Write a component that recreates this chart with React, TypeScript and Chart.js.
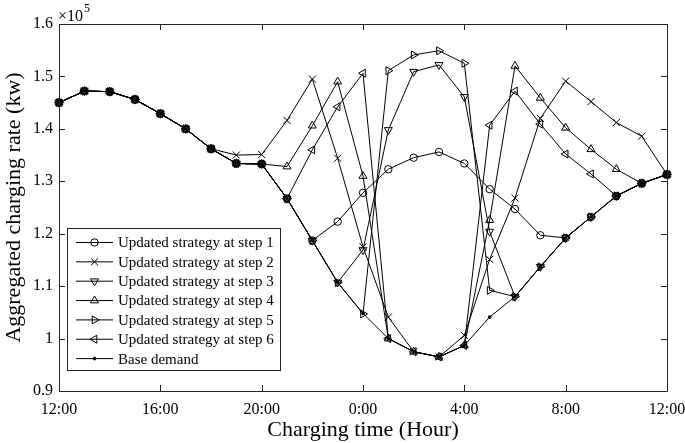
import React, { useEffect, useRef } from 'react';
import { Chart, registerables } from 'chart.js';

Chart.register(...registerables);

// Hours after 12:00 (0 = 12:00, 24 = 12:00 next day)
const hourOffsets = [0, 1, 2, 3, 4, 5, 6, 7, 8, 9, 10, 11, 12, 13, 14, 15, 16, 17, 18, 19, 20, 21, 22, 23, 24];
const xTickValues = [0, 4, 8, 12, 16, 20, 24];
const xTickLabels = ['12:00', '16:00', '20:00', '0:00', '4:00', '8:00', '12:00'];
const yTickValues = [0.9, 1.0, 1.1, 1.2, 1.3, 1.4, 1.5, 1.6];
const yTickLabels = ['0.9', '1', '1.1', '1.2', '1.3', '1.4', '1.5', '1.6'];

// Values in units of 10^5 kw
const baseDemand = [1.450, 1.472, 1.471, 1.456, 1.429, 1.400, 1.362, 1.334, 1.333, 1.267, 1.187, 1.107, 1.048, 1.000, 0.975, 0.965, 0.987, 1.041, 1.080, 1.137, 1.192, 1.232, 1.272, 1.296, 1.313];
const step1 = [1.450, 1.472, 1.471, 1.456, 1.429, 1.400, 1.362, 1.334, 1.333, 1.267, 1.187, 1.223, 1.278, 1.323, 1.345, 1.356, 1.334, 1.285, 1.247, 1.197, 1.192, 1.232, 1.272, 1.296, 1.313];
const step2 = [1.450, 1.472, 1.471, 1.456, 1.429, 1.400, 1.362, 1.350, 1.351, 1.416, 1.495, 1.344, 1.175, 1.041, 0.975, 0.965, 1.006, 1.151, 1.268, 1.420, 1.491, 1.452, 1.412, 1.386, 1.313];
const step3 = [1.450, 1.472, 1.471, 1.456, 1.429, 1.400, 1.362, 1.334, 1.333, 1.267, 1.187, 1.107, 1.169, 1.398, 1.509, 1.522, 1.461, 1.204, 1.080, 1.137, 1.192, 1.232, 1.272, 1.296, 1.313];
const step4 = [1.450, 1.472, 1.471, 1.456, 1.429, 1.400, 1.362, 1.334, 1.333, 1.328, 1.406, 1.490, 1.310, 1.000, 0.975, 0.965, 0.987, 1.226, 1.520, 1.459, 1.402, 1.361, 1.323, 1.296, 1.313];
const step5 = [1.450, 1.472, 1.471, 1.456, 1.429, 1.400, 1.362, 1.334, 1.333, 1.267, 1.187, 1.107, 1.047, 1.511, 1.541, 1.549, 1.525, 1.092, 1.080, 1.137, 1.192, 1.232, 1.272, 1.296, 1.313];
const step6 = [1.450, 1.472, 1.471, 1.456, 1.429, 1.400, 1.362, 1.334, 1.333, 1.267, 1.360, 1.442, 1.506, 1.000, 0.975, 0.965, 0.987, 1.407, 1.472, 1.409, 1.352, 1.314, 1.272, 1.296, 1.313];

const seriesNames = [
  'Updated strategy at step 1',
  'Updated strategy at step 2',
  'Updated strategy at step 3',
  'Updated strategy at step 4',
  'Updated strategy at step 5',
  'Updated strategy at step 6',
  'Base demand',
];
const seriesValues = [step1, step2, step3, step4, step5, step6, baseDemand];

const SERIF = "'Liberation Serif', 'Times New Roman', serif";

type Marker = { style: string; rotation: number; radius: number; filled?: boolean };
const markers: Marker[] = [
  { style: 'circle', rotation: 0, radius: 3.7 },
  { style: 'crossRot', rotation: 0, radius: 5 },
  { style: 'triangle', rotation: 180, radius: 4.6 },
  { style: 'triangle', rotation: 0, radius: 4.6 },
  { style: 'triangle', rotation: 90, radius: 4.6 },
  { style: 'triangle', rotation: 270, radius: 4.6 },
  { style: 'circle', rotation: 0, radius: 1.4, filled: true },
];

function drawMarker(ctx: CanvasRenderingContext2D, m: Marker, x: number, y: number) {
  const r = m.radius;
  ctx.beginPath();
  if (m.style === 'circle') {
    ctx.arc(x, y, r, 0, Math.PI * 2);
    ctx.closePath();
    if (m.filled) {
      ctx.fillStyle = '#000';
      ctx.fill();
    }
    ctx.stroke();
  } else if (m.style === 'crossRot') {
    const o = Math.cos(Math.PI / 4) * r;
    ctx.moveTo(x - o, y - o);
    ctx.lineTo(x + o, y + o);
    ctx.moveTo(x - o, y + o);
    ctx.lineTo(x + o, y - o);
    ctx.stroke();
  } else {
    let rad = (m.rotation * Math.PI) / 180;
    ctx.moveTo(x + Math.sin(rad) * r, y - Math.cos(rad) * r);
    rad += (2 * Math.PI) / 3;
    ctx.lineTo(x + Math.sin(rad) * r, y - Math.cos(rad) * r);
    rad += (2 * Math.PI) / 3;
    ctx.lineTo(x + Math.sin(rad) * r, y - Math.cos(rad) * r);
    ctx.closePath();
    ctx.stroke();
  }
}

const framePlugin = {
  id: 'frame',
  afterDraw(chart: any) {
    const { ctx, chartArea } = chart;
    const { left, right, top, bottom } = chartArea;
    const xs = chart.scales.x;
    const ys = chart.scales.y;
    ctx.save();
    ctx.strokeStyle = '#222';
    ctx.lineWidth = 1;
    ctx.beginPath();
    ctx.rect(Math.round(left) + 0.5, Math.round(top) + 0.5, Math.round(right - left), Math.round(bottom - top));
    ctx.stroke();
    const tl = 6;
    ctx.beginPath();
    xTickValues.forEach((v) => {
      const px = Math.round(xs.getPixelForValue(v)) + 0.5;
      ctx.moveTo(px, bottom);
      ctx.lineTo(px, bottom - tl);
      ctx.moveTo(px, top);
      ctx.lineTo(px, top + tl);
    });
    yTickValues.forEach((v) => {
      const py = Math.round(ys.getPixelForValue(v)) + 0.5;
      ctx.moveTo(left, py);
      ctx.lineTo(left + tl, py);
      ctx.moveTo(right, py);
      ctx.lineTo(right - tl, py);
    });
    ctx.stroke();

    // exponent label
    ctx.fillStyle = '#000';
    ctx.textBaseline = 'alphabetic';
    ctx.textAlign = 'left';
    ctx.font = `16px ${SERIF}`;
    const base = '\u00d710';
    ctx.fillText(base, left - 1, top - 3);
    const w = ctx.measureText(base).width;
    ctx.font = `12px ${SERIF}`;
    ctx.fillText('5', left - 1 + w + 1, top - 12);

    // legend
    const lx = 67, ly = 228, lw = 213, lh = 142;
    ctx.fillStyle = '#fff';
    ctx.fillRect(lx, ly, lw, lh);
    ctx.strokeStyle = '#222';
    ctx.strokeRect(lx + 0.5, ly + 0.5, lw, lh);
    ctx.font = `15px ${SERIF}`;
    ctx.textBaseline = 'middle';
    seriesNames.forEach((name, i) => {
      const y = ly + 14.5 + i * 19.35;
      ctx.strokeStyle = '#000';
      ctx.lineWidth = 1;
      ctx.beginPath();
      ctx.moveTo(lx + 9, y);
      ctx.lineTo(lx + 46, y);
      ctx.stroke();
      drawMarker(ctx, markers[i], lx + 27.5, y);
      ctx.fillStyle = '#000';
      ctx.fillText(name, lx + 51, y + 1);
    });
    ctx.restore();
  },
};

export default function App() {
  const canvasRef = useRef<HTMLCanvasElement | null>(null);

  useEffect(() => {
    document.body.style.margin = '0';
    const canvas = canvasRef.current;
    if (!canvas) return;
    const datasets = seriesValues.map((vals, i) => ({
      label: seriesNames[i],
      data: hourOffsets.map((h, j) => ({ x: h, y: vals[j] })),
      borderColor: '#000',
      borderWidth: 1,
      backgroundColor: markers[i].filled ? '#000' : 'rgba(0,0,0,0)',
      pointStyle: markers[i].style,
      pointRotation: markers[i].rotation,
      pointRadius: markers[i].radius,
      pointBorderWidth: 1,
      pointBorderColor: '#000',
      pointBackgroundColor: markers[i].filled ? '#000' : 'rgba(0,0,0,0)',
      tension: 0,
      fill: false,
      clip: false,
    }));

    const chart = new Chart(canvas, {
      type: 'line',
      data: { datasets },
      plugins: [framePlugin],
      options: {
        responsive: false,
        animation: false,
        layout: { padding: { top: 24, right: 18, left: 0, bottom: 0 } },
        plugins: {
          legend: { display: false },
          tooltip: { enabled: false },
        },
        scales: {
          x: {
            type: 'linear',
            min: 0,
            max: 24,
            afterFit: (s: any) => { s.height = 52; s.paddingLeft = 0; s.paddingRight = 0; },
            afterBuildTicks: (s: any) => { s.ticks = xTickValues.map((v) => ({ value: v })); },
            grid: { display: false, drawTicks: false },
            border: { display: false },
            ticks: {
              color: '#000',
              padding: 9,
              maxRotation: 0,
              font: { family: SERIF, size: 16 },
              callback: (v: any) => xTickLabels[xTickValues.indexOf(Number(v))] ?? '',
            },
            title: {
              display: true,
              text: 'Charging time (Hour)',
              color: '#000',
              font: { family: SERIF, size: 22 },
              padding: { top: 0, bottom: 0 },
            },
          },
          y: {
            type: 'linear',
            min: 0.9,
            max: 1.6,
            afterFit: (s: any) => { s.width = 59; s.paddingTop = 0; s.paddingBottom = 0; },
            afterBuildTicks: (s: any) => { s.ticks = yTickValues.map((v) => ({ value: v })); },
            grid: { display: false, drawTicks: false },
            border: { display: false },
            ticks: {
              color: '#000',
              padding: 6,
              font: { family: SERIF, size: 16 },
              callback: (v: any) => {
                const idx = yTickValues.findIndex((t) => Math.abs(t - Number(v)) < 1e-6);
                return idx >= 0 ? yTickLabels[idx] : '';
              },
            },
            title: {
              display: true,
              text: 'Aggregated charging rate (kw)',
              color: '#000',
              font: { family: SERIF, size: 22 },
              padding: { top: 1, bottom: 0 },
            },
          },
        },
      } as any,
    });
    return () => chart.destroy();
  }, []);

  return <canvas ref={canvasRef} width={685} height={443} style={{ display: 'block' }} />;
}
